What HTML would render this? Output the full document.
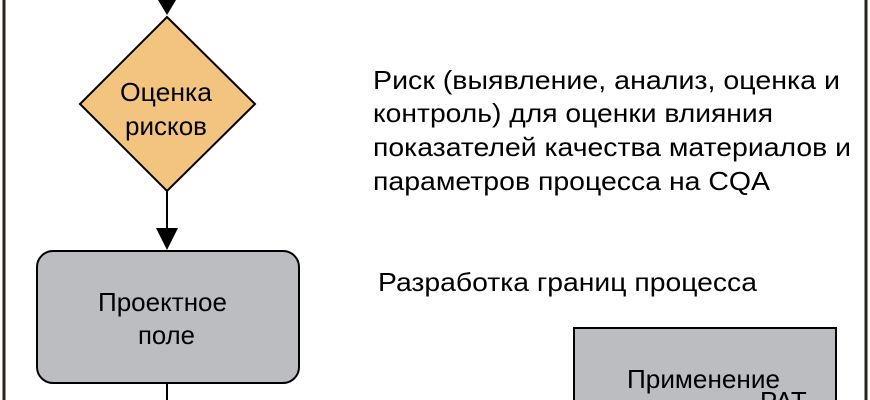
<!DOCTYPE html>
<html><head><meta charset="utf-8"><style>
html,body{margin:0;padding:0;background:#fff;}
body{width:870px;height:400px;overflow:hidden;position:relative;font-family:"Liberation Sans",Arial,sans-serif;}
</style></head><body>
<svg width="870" height="400" viewBox="0 0 870 400" style="position:absolute;left:0;top:0;overflow:hidden" font-family="Liberation Sans, Arial, sans-serif">
<line x1="4" y1="0" x2="4" y2="400" stroke="#2a2418" stroke-width="3"/>
<line x1="866" y1="0" x2="866" y2="400" stroke="#2a2418" stroke-width="3"/>
<polygon points="158,0 176,0 167,15" fill="#000"/>
<polygon points="167,17 255,104 167,191 80,104" fill="#f3c47f" stroke="#000" stroke-width="2"/>
<text x="120" y="101" font-size="26" textLength="92" lengthAdjust="spacingAndGlyphs">Оценка</text>
<text x="125" y="135" font-size="26" textLength="82" lengthAdjust="spacingAndGlyphs">рисков</text>
<line x1="167" y1="191" x2="167" y2="235" stroke="#000" stroke-width="2"/>
<polygon points="156,228 178,228 167,250" fill="#000"/>
<rect x="37" y="251" width="262" height="132" rx="16" fill="#bcbdc0" stroke="#000" stroke-width="2"/>
<text x="98" y="311" font-size="26" textLength="129" lengthAdjust="spacingAndGlyphs">Проектное</text>
<text x="138" y="344" font-size="26" textLength="57" lengthAdjust="spacingAndGlyphs">поле</text>
<line x1="167" y1="383" x2="167" y2="400" stroke="#000" stroke-width="2"/>
<polyline points="574,400 574,328 836,328 836,400" fill="#bcbdc0" stroke="#000" stroke-width="2"/>
<text x="627" y="388" font-size="26" textLength="153" lengthAdjust="spacingAndGlyphs">Применение</text>
<text x="760" y="410" font-size="26">PAT</text>
<g font-size="26" fill="#000">
<text x="373" y="89" textLength="467" lengthAdjust="spacingAndGlyphs">Риск (выявление, анализ, оценка и</text>
<text x="373" y="122" textLength="400" lengthAdjust="spacingAndGlyphs">контроль) для оценки влияния</text>
<text x="373" y="156" textLength="478" lengthAdjust="spacingAndGlyphs">показателей качества материалов и</text>
<text x="373" y="190" textLength="397" lengthAdjust="spacingAndGlyphs">параметров процесса на CQA</text>
<text x="378" y="291" textLength="379" lengthAdjust="spacingAndGlyphs">Разработка границ процесса</text>
</g>
</svg>
</body></html>
